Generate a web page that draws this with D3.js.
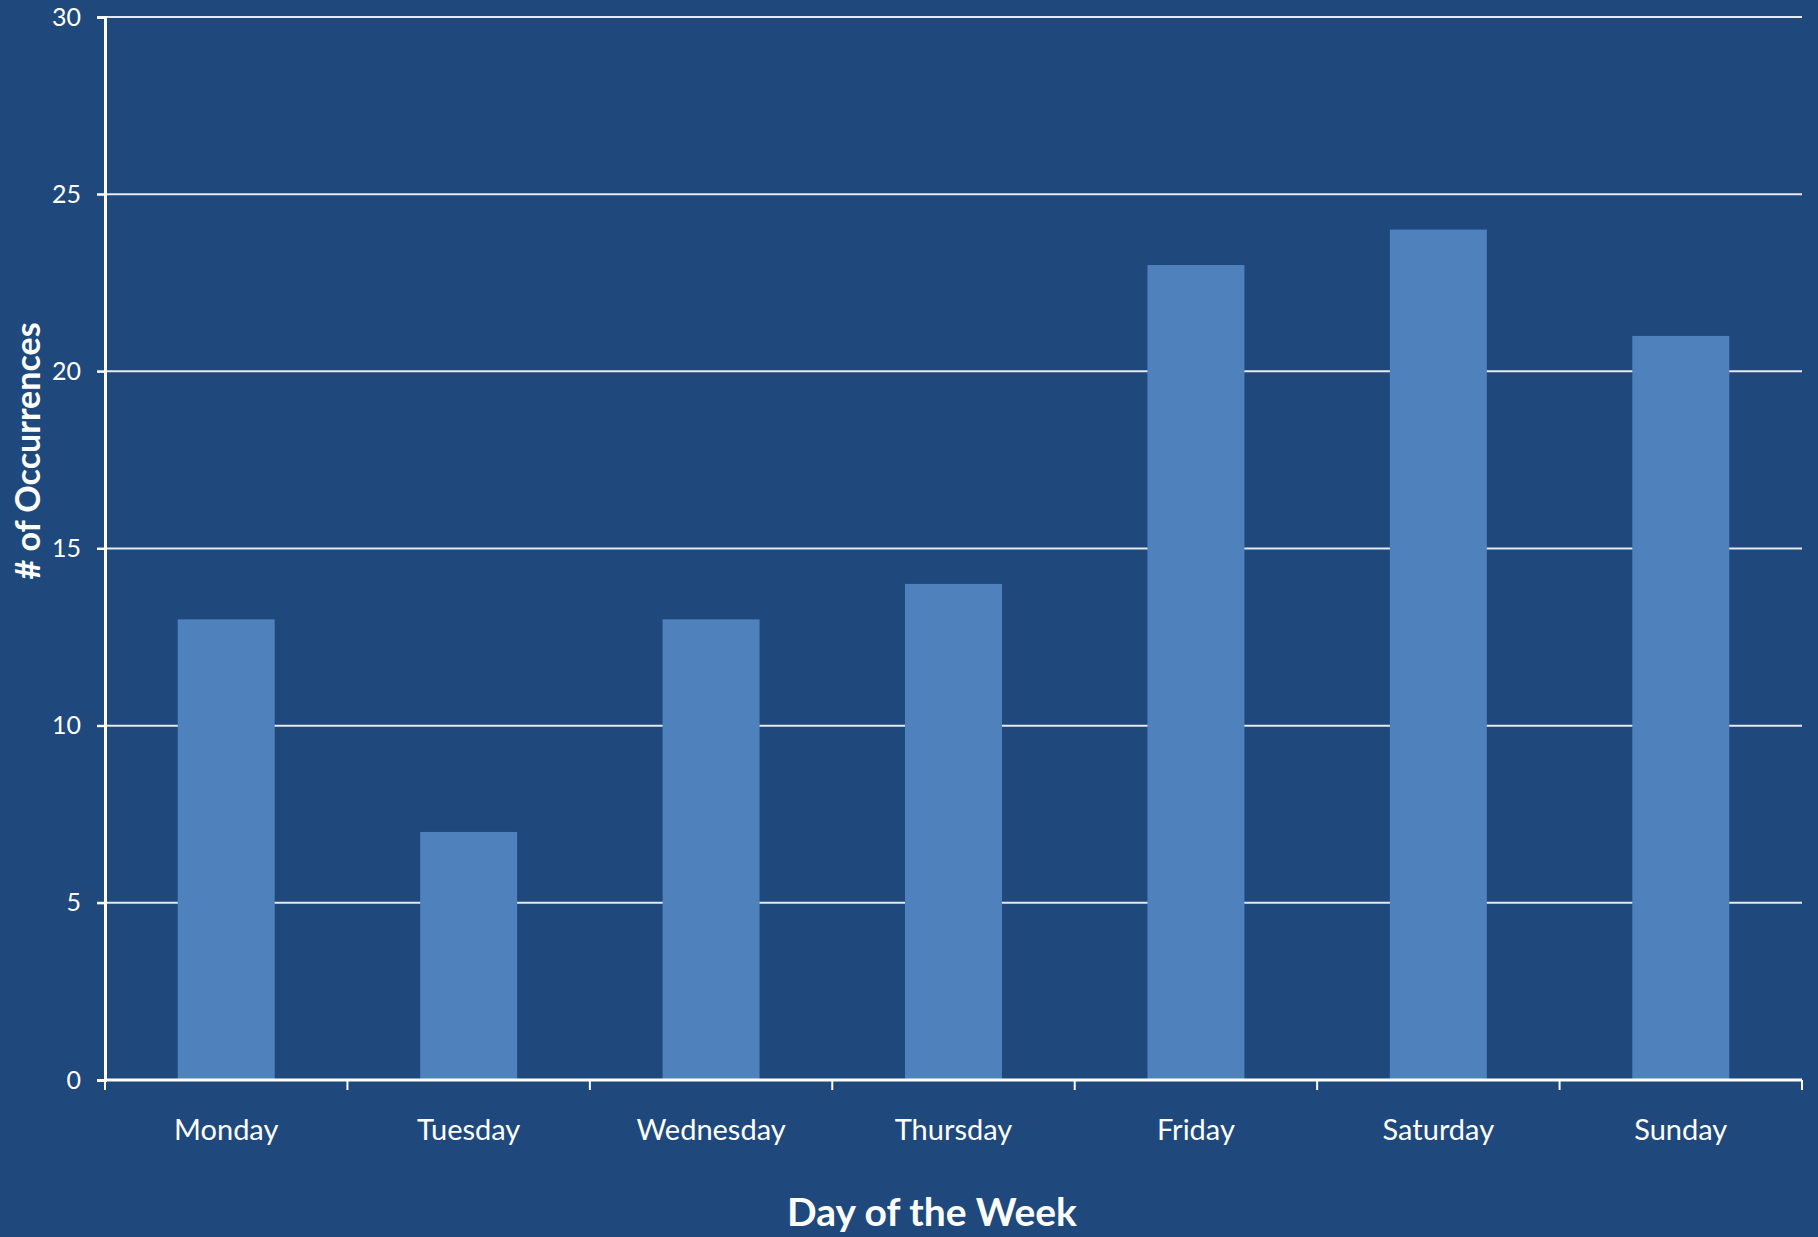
<!DOCTYPE html>
<html>
<head>
<meta charset="utf-8">
<script src="https://cdn.jsdelivr.net/npm/d3@7"></script>
<style>
  html, body { margin: 0; padding: 0; background: #1f497d; }
  svg { display: block; }
  text { font-family: Lato, "Open Sans", sans-serif; fill: #fff; }
</style>
</head>
<body>
<script>
const width = 1818;
const height = 1237;

// data
const days = ["Monday", "Tuesday", "Wednesday", "Thursday", "Friday", "Saturday", "Sunday"];
const occurrences = [13, 7, 13, 14, 23, 24, 21];
const yTicks = [0, 5, 10, 15, 20, 25, 30];

const margin = { top: 17, right: 16, bottom: 157, left: 105 };

const svg = d3
    .select("body")
    .append("svg")
    .attr("width", width)
    .attr("height", height);

svg.append("rect")
    .attr("width", width)
    .attr("height", height)
    .attr("fill", "#1f497d");

const x = d3
    .scaleBand()
    .domain(days)
    .range([margin.left, width - margin.right])
    .paddingInner(0.6)
    .paddingOuter(0.3);

const y = d3
    .scaleLinear()
    .domain([0, 30])
    .range([height - margin.bottom, margin.top]);

// gridlines
svg.append("g")
    .selectAll("line")
    .data(yTicks.slice(1))
    .enter()
    .append("line")
    .attr("x1", margin.left - 8)
    .attr("x2", width - margin.right)
    .attr("y1", (d) => y(d))
    .attr("y2", (d) => y(d))
    .attr("stroke", "#e6e9ee")
    .attr("stroke-width", 2);

// bars
svg.append("g")
    .selectAll("rect")
    .data(days)
    .enter()
    .append("rect")
    .attr("x", (d) => x(d))
    .attr("y", (d, i) => y(occurrences[i]))
    .attr("width", x.bandwidth())
    .attr("height", (d, i) => y(0) - y(occurrences[i]))
    .attr("fill", "#4f81bd");

// y axis
const yAxis = svg.append("g")
    .attr("transform", `translate(${margin.left},0)`)
    .call(d3.axisLeft(y).tickValues(yTicks).tickSize(8).tickPadding(16));
yAxis.select(".domain").attr("stroke", "#fff").attr("stroke-width", 3);
yAxis.selectAll(".tick line").attr("stroke", "#fff").attr("stroke-width", 2);
yAxis.selectAll(".tick text")
    .attr("fill", "#fff")
    .style("font-family", "Lato, 'Open Sans', sans-serif")
    .style("font-size", "25px");

// x axis: ticks sit on category boundaries
const step = x.step();
const boundaries = d3.range(days.length + 1).map((i) => margin.left + i * step);

const xAxis = svg.append("g");
xAxis.append("line")
    .attr("x1", margin.left)
    .attr("x2", width - margin.right)
    .attr("y1", y(0))
    .attr("y2", y(0))
    .attr("stroke", "#fff")
    .attr("stroke-width", 3);
xAxis.selectAll(".xtick")
    .data(boundaries)
    .enter()
    .append("line")
    .attr("class", "xtick")
    .attr("x1", (d) => d)
    .attr("x2", (d) => d)
    .attr("y1", y(0))
    .attr("y2", y(0) + 10)
    .attr("stroke", "#fff")
    .attr("stroke-width", 2);
xAxis.selectAll(".xlabel")
    .data(days)
    .enter()
    .append("text")
    .attr("class", "xlabel")
    .attr("x", (d) => x(d) + x.bandwidth() / 2)
    .attr("y", y(0) + 60)
    .attr("text-anchor", "middle")
    .style("font-size", "29px")
    .text((d) => d);

// axis titles
svg.append("text")
    .attr("x", 932)
    .attr("y", 1226)
    .attr("text-anchor", "middle")
    .style("font-size", "39px")
    .style("font-weight", "bold")
    .text("Day of the Week");

svg.append("text")
    .attr("transform", "translate(40,451) rotate(-90)")
    .attr("text-anchor", "middle")
    .style("font-size", "34px")
    .style("font-weight", "bold")
    .text("# of Occurrences");
</script>
</body>
</html>
